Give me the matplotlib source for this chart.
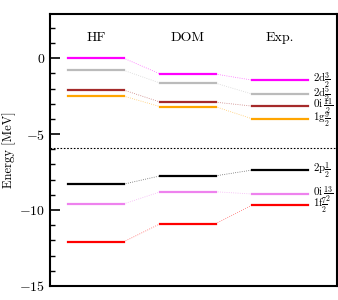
import numpy as np
import matplotlib
matplotlib.use('Agg')
import matplotlib.pyplot as plt
from matplotlib.ticker import MultipleLocator

plt.rcParams['font.family'] = 'serif'
plt.rcParams['font.serif'] = ['cmr10', 'DejaVu Serif']
plt.rcParams['mathtext.fontset'] = 'cm'
plt.rcParams['axes.formatter.use_mathtext'] = True

methods = ['HF', 'DOM', 'Exp.']
labels = [r'2d$\frac{3}{2}$', r'2d$\frac{5}{2}$', r'0i$\,\frac{11}{2}$', r'1g$\frac{9}{2}$',
          r'2p$\frac{1}{2}$', r'0i$\,\frac{13}{2}$', r'1f$\frac{7}{2}$']
colors = ['magenta', '#bbbbbb', 'brown', 'orange', 'black', 'violet', 'red']
hf = [0.0, -0.8, -2.1, -2.5, -8.3, -9.6, -12.1]
dom = [-1.05, -1.65, -2.9, -3.2, -7.75, -8.8, -10.9]
exp = [-1.45, -2.37, -3.16, -4.0, -7.37, -8.95, -9.67]
gap = -5.9

fig = plt.figure(figsize=(3.38, 3.0), dpi=100)
ax = fig.add_axes([0.148, 0.047, 0.849, 0.906])

pos = [1, 2, 3]
w = 0.3
levels = [hf, dom, exp]
for i in range(len(labels)):
    for j in range(3):
        ax.plot([pos[j] - w, pos[j] + w], [levels[j][i]] * 2, color=colors[i], lw=1.6)
        if j < 2:
            ax.plot([pos[j] + w, pos[j + 1] - w], [levels[j][i], levels[j + 1][i]],
                    color=colors[i], lw=0.6, ls=':', alpha=0.6)
    ax.text(3.36, exp[i], labels[i], fontsize=8, va='center', ha='left')

for j in range(3):
    ax.text(pos[j], 1.35, methods[j], fontsize=10, ha='center', va='center')

ax.axhline(gap, color='black', lw=0.8, ls=(0, (1.5, 1.5)))

ax.set_xlim(0.5, 3.62)
ax.set_ylim(-15, 2.9)
ax.set_xticks([])
ax.yaxis.set_major_locator(MultipleLocator(5))
ax.yaxis.set_minor_locator(MultipleLocator(1))
ax.tick_params(axis='y', which='major', direction='in', length=7, width=1.2, labelsize=10)
ax.tick_params(axis='y', which='minor', direction='in', length=3.5, width=1.0)
for s in ax.spines.values():
    s.set_linewidth(1.5)
ax.set_ylabel('Energy [MeV]', fontsize=9, labelpad=2)

fig.savefig('out.png', dpi=100)
